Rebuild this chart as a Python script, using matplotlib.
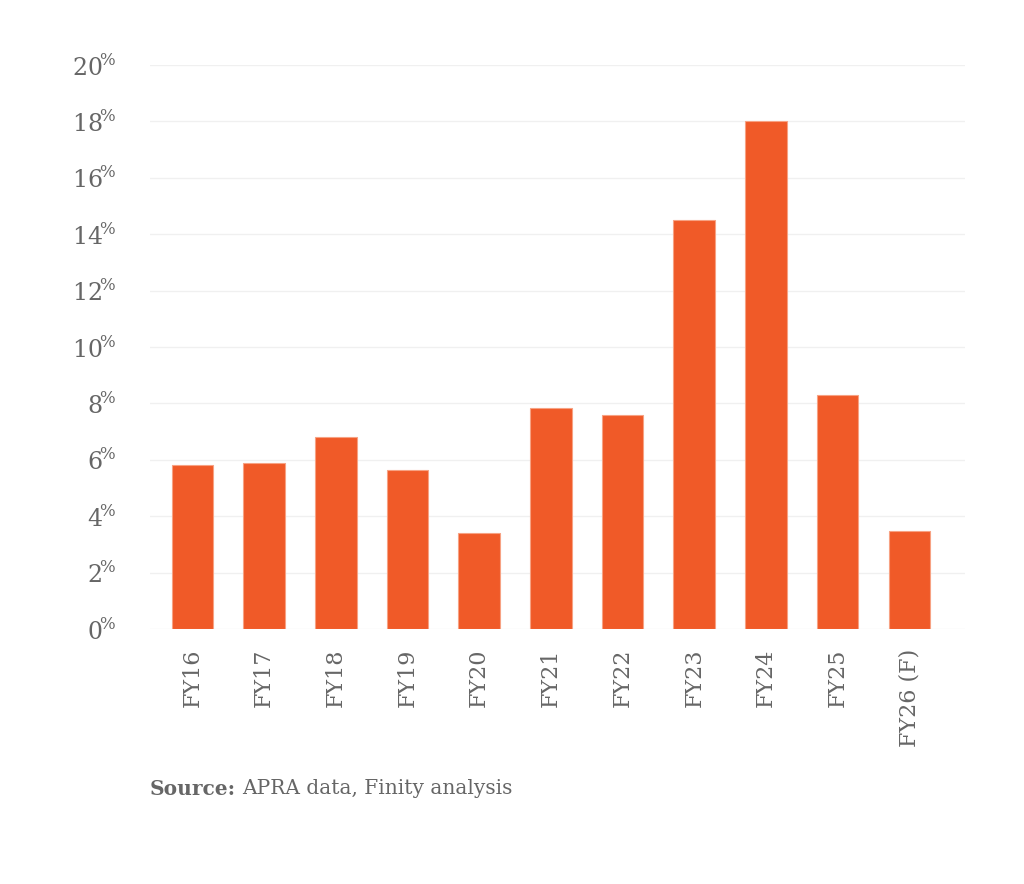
import numpy as np
import matplotlib.pyplot as plt

plt.rcParams['font.family'] = ['DejaVu Serif']
plt.rcParams['mathtext.fontset'] = 'custom'
plt.rcParams['mathtext.rm'] = 'DejaVu Serif'

# data
years = ['FY16', 'FY17', 'FY18', 'FY19', 'FY20', 'FY21', 'FY22',
         'FY23', 'FY24', 'FY25', 'FY26 (F)']
growth = [5.8, 5.9, 6.8, 5.65, 3.4, 7.85, 7.6, 14.5, 18.0, 8.3, 3.48]
yticks = [0, 2, 4, 6, 8, 10, 12, 14, 16, 18, 20]

BAR = '#F05A28'
GREY = '#666666'

fig = plt.figure(figsize=(10.24, 8.84), dpi=100)
ax = fig.add_axes([0.1465, 0.2885, 0.7955, 0.638])

x = np.arange(len(years))
ax.bar(x, growth, width=0.58, color=BAR, edgecolor='#F7A283', linewidth=0.8, zorder=3)

ax.set_xlim(-0.59, len(years) - 0.23)
ax.set_ylim(0, 20)
ax.set_yticks(yticks)
ax.set_yticklabels([f'{t}$^{{\\!\\%}}$' for t in yticks], fontsize=17, color=GREY)
ax.set_xticks(x)
ax.set_xticklabels(years, rotation=90, fontsize=16, color=GREY)
ax.tick_params(axis='both', length=0)
ax.tick_params(axis='y', pad=24)
ax.tick_params(axis='x', pad=14)

ax.grid(axis='y', color='#f0f0f0', linewidth=1, zorder=0)
for s in ax.spines.values():
    s.set_visible(False)

# source note: bold label followed by plain text
src = fig.text(0.1465, 0.108, 'Source:', fontsize=14.5, color=GREY,
               fontweight='bold', va='center')
fig.canvas.draw()
bb = src.get_window_extent()
fig.text(bb.x1 / fig.bbox.width + 0.006, 0.108, 'APRA data, Finity analysis',
         fontsize=14.5, color=GREY, va='center')

fig.savefig('out.png', dpi=100, facecolor='white')
